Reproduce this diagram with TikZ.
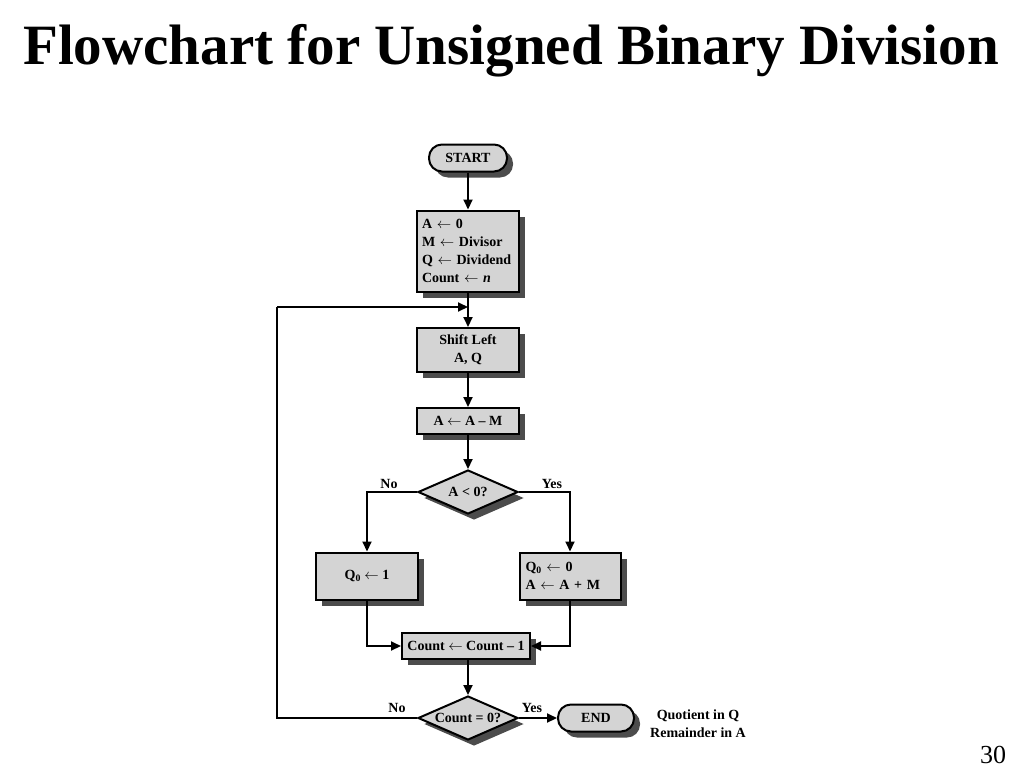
\documentclass[tikz,border=0pt]{standalone}
\usepackage{fontspec}
\setmainfont{Liberation Serif}
\usetikzlibrary{shapes.geometric,shadows,arrows.meta}
\newcommand{\lar}{\ensuremath{\leftarrow}}
\begin{document}
\begin{tikzpicture}[x=1pt,y=-1pt,
  font=\fontsize{14}{18}\selectfont\bfseries,
  shad/.style={drop shadow={shadow xshift=6pt,shadow yshift=-6pt,fill=black!70,opacity=1}},
  proc/.style={draw,line width=2pt,fill=black!17,shad,inner sep=2pt,align=center},
  term/.style={draw,line width=2pt,fill=black!17,shad,rounded corners=13pt,minimum width=78pt,minimum height=27pt,inner sep=0pt},
  dec/.style={diamond,draw,line width=2pt,fill=black!17,shad,minimum width=100pt,minimum height=44pt,inner sep=0pt,aspect=2.27},
  conn/.style={line width=2pt,-{Triangle[length=10pt,width=9pt]}},
  line/.style={line width=2pt},
  lab/.style={font=\fontsize{14}{18}\selectfont\bfseries}
]
\useasboundingbox (0,0) rectangle (1024,768);
\node[font=\fontsize{57}{60}\selectfont\bfseries] (title) at (511,51) {Flowchart for Unsigned Binary Division};
\node[font=\fontsize{26}{28}\selectfont] (pg) at (993,755) {30};

\node[term] (start) at (468,158) {START};
\node[proc,minimum width=102pt,minimum height=81pt,text width=92pt,align=left,xshift=2pt] (init) at (466,251) {A \lar\ 0\\M \lar\ Divisor\\Q \lar\ Dividend\\Count \lar\ \textit{n}};
\node[proc,minimum width=102pt,minimum height=44pt] (shift) at (468,350) {Shift Left\\A, Q};
\node[proc,minimum width=102pt,minimum height=26pt] (sub) at (468,421) {A \lar\ A – M};
\node[dec] (d1) at (468,492) {A {\textless} 0?};
\node[proc,minimum width=102pt,minimum height=47pt] (q1) at (367,576) {Q$_{\mathbf 0}$ \lar\ 1};
\node[proc,minimum width=101pt,minimum height=47pt,text width=89pt,align=left,inner xsep=4pt] (q0) at (570,576) {Q$_{\mathbf 0}$ \lar\ 0\\A \lar\ A + M};
\node[proc,minimum width=128pt,minimum height=26pt] (cnt) at (466,646) {Count \lar\ Count – 1};
\node[dec] (d2) at (468,718) {Count = 0?};
\node[term,minimum width=76pt] (end) at (596,718) {END};
\node[lab,align=center] (note) at (698,724) {Quotient in Q\\Remainder in A};

\coordinate (loopL) at (277,718);
\coordinate (loopT) at (277,307);
\coordinate (join) at (468,307);

\draw[conn] (start) -- (start.south |- init.north);
\draw[conn] (init.south -| shift.north) -- (shift.north);
\draw[conn] (shift) -- (sub);
\draw[conn] (sub) -- (d1);
\draw[conn] (d1.west) -| (q1.north);
\draw[conn] (d1.east) -| (q0.north);
\draw[conn] (q1.south) |- (cnt.west);
\draw[conn] (q0.south) |- (cnt.east);
\draw[conn] (cnt.south -| d2.north) -- (d2.north);
\draw[conn] (d2.east) -- (end.west);
\draw[line] (d2.west) -- (loopL) -- (loopT);
\draw[conn] (loopT) -- (join);

\node[lab] (no1) at (389,484) {No};
\node[lab] (yes1) at (552,484) {Yes};
\node[lab] (no2) at (397,708) {No};
\node[lab] (yes2) at (532,708) {Yes};
\end{tikzpicture}
\end{document}
